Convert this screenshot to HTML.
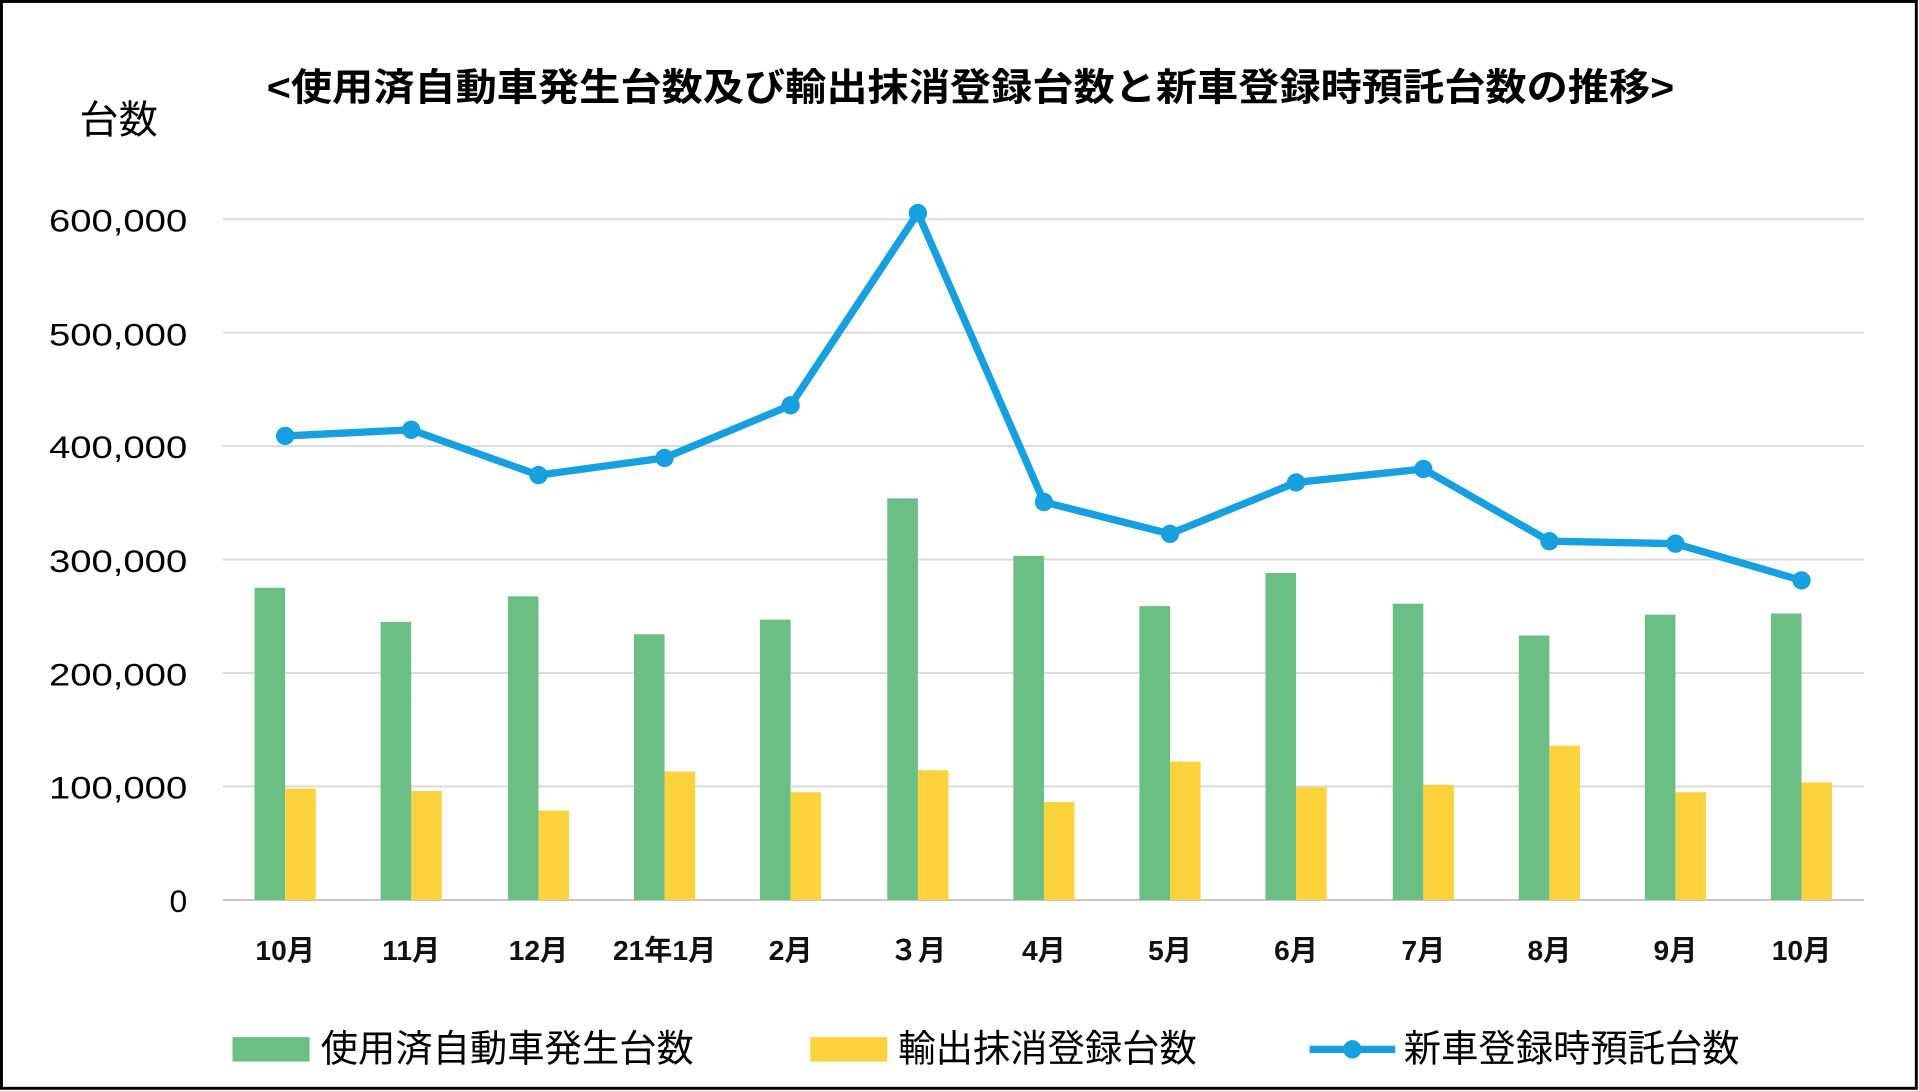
<!DOCTYPE html>
<html><head><meta charset="utf-8"><style>html,body{margin:0;padding:0;background:#fff}svg{display:block}text{font-family:"Liberation Sans","Noto Sans CJK JP",sans-serif}</style></head>
<body>
<svg width="1919" height="1091" viewBox="0 0 1568 891" preserveAspectRatio="none" xmlns="http://www.w3.org/2000/svg">
<rect x="1.2" y="1.2" width="1564.6" height="887.6" fill="#fff" stroke="#000" stroke-width="2.4"/>
<text x="793" y="82" font-size="31" font-weight="bold" text-anchor="middle" textLength="1150" lengthAdjust="spacingAndGlyphs">&lt;使用済自動車発生台数及び輸出抹消登録台数と新車登録時預託台数の推移&gt;</text>
<text x="65" y="109" font-size="32">台数</text>
<g stroke="#d9d9d9" stroke-width="1.5">
<line x1="182" x2="1523" y1="179" y2="179"/><line x1="182" x2="1523" y1="271.7" y2="271.7"/><line x1="182" x2="1523" y1="364.3" y2="364.3"/><line x1="182" x2="1523" y1="457" y2="457"/><line x1="182" x2="1523" y1="549.7" y2="549.7"/><line x1="182" x2="1523" y1="642.3" y2="642.3"/>
</g>
<line x1="182" x2="1523" y1="735" y2="735" stroke="#bfbfbf" stroke-width="1.5"/>
<g font-size="26" text-anchor="end">
<text x="153" y="189" textLength="113" lengthAdjust="spacingAndGlyphs">600,000</text><text x="153" y="282" textLength="113" lengthAdjust="spacingAndGlyphs">500,000</text><text x="153" y="374" textLength="113" lengthAdjust="spacingAndGlyphs">400,000</text><text x="153" y="467" textLength="113" lengthAdjust="spacingAndGlyphs">300,000</text><text x="153" y="560" textLength="113" lengthAdjust="spacingAndGlyphs">200,000</text><text x="153" y="652" textLength="113" lengthAdjust="spacingAndGlyphs">100,000</text><text x="153" y="745">0</text>
</g>
<g font-size="23" text-anchor="middle" font-weight="bold" fill="#111">
<text x="233" y="784">10月</text><text x="336" y="784">11月</text><text x="440" y="784">12月</text><text x="543" y="784">21年1月</text><text x="646" y="784">2月</text><text x="750" y="784">３月</text><text x="853" y="784">4月</text><text x="956" y="784">5月</text><text x="1059" y="784">6月</text><text x="1163" y="784">7月</text><text x="1266" y="784">8月</text><text x="1369" y="784">9月</text><text x="1472" y="784">10月</text>
</g>
<g fill="#6bbf85">
<rect x="208" y="480" width="25" height="255"/><rect x="311" y="508" width="25" height="227"/><rect x="415" y="487" width="25" height="248"/><rect x="518" y="518" width="25" height="217"/><rect x="621" y="506" width="25" height="229"/><rect x="725" y="407" width="25" height="328"/><rect x="828" y="454" width="25" height="281"/><rect x="931" y="495" width="25" height="240"/><rect x="1034" y="468" width="25" height="267"/><rect x="1138" y="493" width="25" height="242"/><rect x="1241" y="519" width="25" height="216"/><rect x="1344" y="502" width="25" height="233"/><rect x="1447" y="501" width="25" height="234"/>
</g>
<g fill="#fdd33d">
<rect x="233" y="644" width="25" height="91"/><rect x="336" y="646" width="25" height="89"/><rect x="440" y="662" width="25" height="73"/><rect x="543" y="630" width="25" height="105"/><rect x="646" y="647" width="25" height="88"/><rect x="750" y="629" width="25" height="106"/><rect x="853" y="655" width="25" height="80"/><rect x="956" y="622" width="25" height="113"/><rect x="1059" y="643" width="25" height="92"/><rect x="1163" y="641" width="25" height="94"/><rect x="1266" y="609" width="25" height="126"/><rect x="1369" y="647" width="25" height="88"/><rect x="1472" y="639" width="25" height="96"/>
</g>
<polyline fill="none" stroke="#16a0e0" stroke-width="6" stroke-linejoin="round" points="233,356 336,351 440,388 543,374 646,331 750,174 853,410 956,436 1059,394 1163,383 1266,442 1369,444 1472,474"/>
<g fill="#16a0e0">
<circle cx="233" cy="356" r="7.5"/><circle cx="336" cy="351" r="7.5"/><circle cx="440" cy="388" r="7.5"/><circle cx="543" cy="374" r="7.5"/><circle cx="646" cy="331" r="7.5"/><circle cx="750" cy="174" r="7.5"/><circle cx="853" cy="410" r="7.5"/><circle cx="956" cy="436" r="7.5"/><circle cx="1059" cy="394" r="7.5"/><circle cx="1163" cy="383" r="7.5"/><circle cx="1266" cy="442" r="7.5"/><circle cx="1369" cy="444" r="7.5"/><circle cx="1472" cy="474" r="7.5"/>
</g>
<rect x="190" y="847" width="63" height="20" fill="#6bbf85"/>
<text x="262" y="867" font-size="30.5">使用済自動車発生台数</text>
<rect x="662" y="847" width="63" height="20" fill="#fdd33d"/>
<text x="734" y="867" font-size="30.5">輸出抹消登録台数</text>
<line x1="1070" x2="1140" y1="857" y2="857" stroke="#16a0e0" stroke-width="6"/>
<circle cx="1105" cy="857" r="7.5" fill="#16a0e0"/>
<text x="1147" y="867" font-size="30.5">新車登録時預託台数</text>
</svg>
</body></html>
